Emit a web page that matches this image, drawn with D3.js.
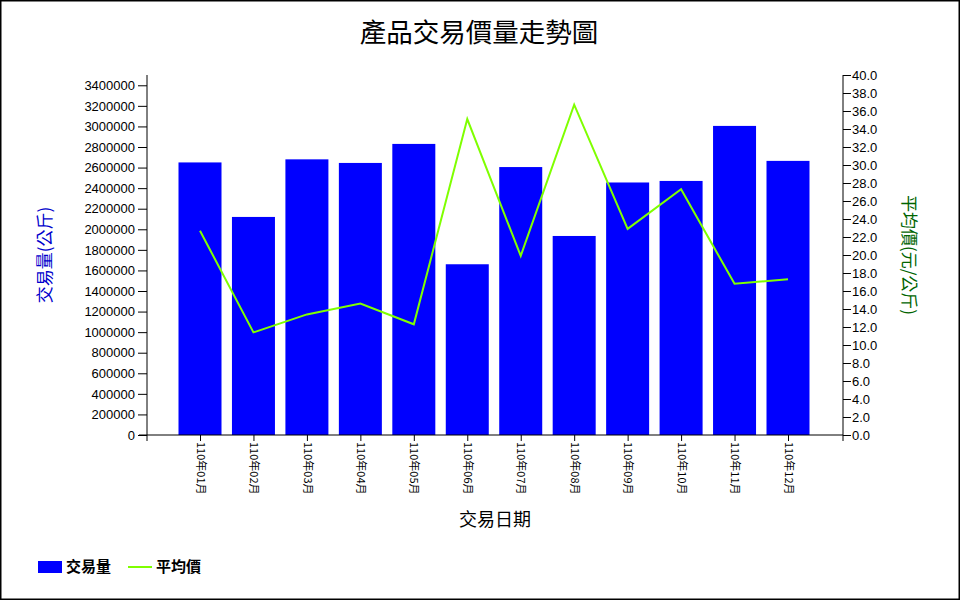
<!DOCTYPE html>
<html><head><meta charset="utf-8">
<script src="https://cdn.jsdelivr.net/npm/d3@7"></script>
<style>body{margin:0;background:#fff}svg{display:block}</style>
</head><body>
<svg id="c" width="960" height="600"></svg>
<script>
const categories = ["110年01月","110年02月","110年03月","110年04月","110年05月","110年06月","110年07月","110年08月","110年09月","110年10月","110年11月","110年12月"];
const volumes = [2650000,2120000,2680000,2645000,2830000,1660000,2605000,1935000,2455000,2470000,3005000,2665000];
const avgPrices = [22.7,11.4,13.4,14.6,12.3,35.1,19.9,36.7,22.9,27.3,16.8,17.3];
const leftTicks = d3.range(0, 3400001, 200000);
const rightTicks = d3.range(0, 40.01, 2);

const svg = d3.select("#c");
const cjk = "'Noto Sans CJK TC','Noto Sans CJK SC',sans-serif";
const latin = "'Liberation Sans',Arial,sans-serif";

svg.append("rect").attr("x",0.75).attr("y",0.75).attr("width",958.5).attr("height",598.5)
  .attr("fill","#fff").attr("stroke","#000").attr("stroke-width",1.5);

const L = 147, R = 843, T = 75, B = 435;
const xc = d3.scalePoint().domain(categories).range([200, 788]);
const yL = d3.scaleLinear().domain([0, 3500000]).range([B, T]);
const yR = d3.scaleLinear().domain([0, 40]).range([B, T]);

// bars
svg.append("g").selectAll("rect").data(categories).join("rect")
  .attr("x", d => xc(d) - 21.5).attr("width", 43)
  .attr("y", (d,i) => yL(volumes[i])).attr("height", (d,i) => B - yL(volumes[i]))
  .attr("fill", "#0000ff");

// line
const line = d3.line().x((d,i) => xc(categories[i])).y(d => yR(d));
svg.append("path").datum(avgPrices).attr("d", line).attr("fill","none")
  .attr("stroke","#7fff00").attr("stroke-width",2).attr("stroke-linejoin","miter");

// left axis
const gL = svg.append("g").attr("transform",`translate(${L},0)`)
  .call(d3.axisLeft(yL).tickValues(leftTicks).tickFormat(d3.format("d")).tickSize(9).tickPadding(3).tickSizeOuter(0));
gL.select(".domain").attr("d", `M0,${T}V${B+6}`);
gL.selectAll("text").attr("font-family", latin).attr("font-size", 13).attr("fill","#000");

// right axis
const gR = svg.append("g").attr("transform",`translate(${R},0)`)
  .call(d3.axisRight(yR).tickValues(rightTicks).tickFormat(d3.format(".1f")).tickSize(8).tickPadding(1).tickSizeOuter(0));
gR.select(".domain").attr("d", `M0,${T}V${B+6}`);
gR.selectAll("text").attr("font-family", latin).attr("font-size", 13).attr("fill","#000");

// x axis
const gX = svg.append("g").attr("transform",`translate(0,${B})`)
  .call(d3.axisBottom(xc).tickSize(6).tickSizeOuter(0));
gX.select(".domain").attr("d", `M${L-8},0H${R}`);
gX.selectAll("text").attr("font-family", cjk).attr("font-size", 11).attr("fill","#000")
  .attr("transform","rotate(90)").attr("text-anchor","start")
  .attr("x", 7).attr("y", 0).attr("dy","0.35em");

// titles
svg.append("text").attr("x",479).attr("y",33).attr("dy","0.35em").attr("text-anchor","middle")
  .attr("font-family",cjk).attr("font-size",26.5).attr("fill","#000").text("產品交易價量走勢圖");
svg.append("text").attr("x",495).attr("y",520).attr("dy","0.35em").attr("text-anchor","middle")
  .attr("font-family",cjk).attr("font-size",18).attr("fill","#000").text("交易日期");
svg.append("text").attr("transform","translate(45,255) rotate(-90)").attr("dy","0.35em").attr("text-anchor","middle")
  .attr("font-family",cjk).attr("font-size",17).attr("fill","#0000cc").text("交易量(公斤)");
svg.append("text").attr("transform","translate(909,255) rotate(90)").attr("dy","0.35em").attr("text-anchor","middle")
  .attr("font-family",cjk).attr("font-size",17).attr("fill","#006400").text("平均價(元/公斤)");

// legend
const lg = svg.append("g");
lg.append("rect").attr("x",38).attr("y",561).attr("width",24).attr("height",12).attr("fill","#0000ff");
lg.append("text").attr("x",66).attr("y",567).attr("dy","0.35em").attr("font-family",cjk).attr("font-size",15)
  .attr("font-weight","bold").attr("fill","#000").text("交易量");
lg.append("line").attr("x1",128).attr("x2",152).attr("y1",567).attr("y2",567).attr("stroke","#7fff00").attr("stroke-width",2);
lg.append("text").attr("x",156).attr("y",567).attr("dy","0.35em").attr("font-family",cjk).attr("font-size",15)
  .attr("font-weight","bold").attr("fill","#000").text("平均價");
</script>
</body></html>
